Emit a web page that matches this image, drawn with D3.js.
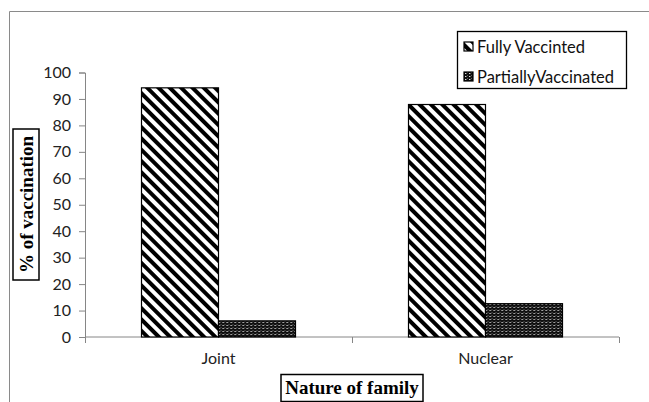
<!DOCTYPE html>
<html>
<head>
<meta charset="utf-8">
<script src="https://cdn.jsdelivr.net/npm/d3@7"></script>
<style>
  body { margin: 0; background: #fff; }
  text { font-family: Lato, "Open Sans", sans-serif; }
</style>
</head>
<body>
<div id="chart"></div>
<script>
// data
var categories = ["Joint", "Nuclear"];
var seriesNames = ["Fully Vaccinted", "PartiallyVaccinated"];
var fullyValues = [94.2, 87.9];
var partialValues = [6.1, 12.6];
var yTicks = [0, 10, 20, 30, 40, 50, 60, 70, 80, 90, 100];

var width = 649, height = 402;
var plotLeft = 85, plotRight = 619, plotTop = 72.5, plotBottom = 337;

var svg = d3.select("#chart").append("svg")
  .attr("width", width)
  .attr("height", height);

var defs = svg.append("defs");

// diagonal stripes for fully vaccinated
var p1 = defs.append("pattern")
  .attr("id", "stripes")
  .attr("patternUnits", "userSpaceOnUse")
  .attr("width", 8).attr("height", 8)
  .attr("patternTransform", "rotate(45)");
p1.append("rect").attr("width", 8).attr("height", 8).attr("fill", "#fff");
p1.append("rect").attr("x", 0).attr("y", 0).attr("width", 8).attr("height", 4).attr("fill", "#000");

// dense dotted pattern for partially vaccinated
var p2 = defs.append("pattern")
  .attr("id", "dots")
  .attr("patternUnits", "userSpaceOnUse")
  .attr("width", 4).attr("height", 3);
p2.append("rect").attr("width", 4).attr("height", 3).attr("fill", "#111");
p2.append("rect").attr("x", 1).attr("y", 1).attr("width", 1.4).attr("height", 1).attr("fill", "#ddd");
p2.append("rect").attr("x", 3).attr("y", 0).attr("width", 0.8).attr("height", 0.8).attr("fill", "#888");

var fills = ["url(#stripes)", "url(#dots)"];

// outer frame (left and top only visible)
svg.append("line").attr("x1", 9.5).attr("y1", 11.5).attr("x2", 9.5).attr("y2", height)
  .attr("stroke", "#8a8a8a");
svg.append("line").attr("x1", 9.5).attr("y1", 11.5).attr("x2", width).attr("y2", 11.5)
  .attr("stroke", "#8a8a8a");

var y = d3.scaleLinear().domain([0, 100]).range([plotBottom, plotTop]);
var x0 = d3.scaleBand().domain(categories).range([plotLeft, plotRight]).paddingInner(0).paddingOuter(0);
var groupW = 154;
var x1 = d3.scaleBand().domain(seriesNames).range([0, groupW]);

var rows = categories.map(function(c, i) {
  return { cat: c, vals: [fullyValues[i], partialValues[i]] };
});

// y axis
var yAxis = svg.append("g")
  .attr("transform", "translate(" + plotLeft + ",0)")
  .call(d3.axisLeft(y).tickValues(yTicks).tickSize(6).tickPadding(8));
yAxis.select(".domain").attr("stroke", "#868686");
yAxis.selectAll(".tick line").attr("stroke", "#868686");
yAxis.selectAll(".tick text").attr("fill", "#222").style("font-size", "16px");

// x axis
var xAxis = svg.append("g")
  .attr("transform", "translate(0," + plotBottom + ")")
  .call(d3.axisBottom(x0).tickSize(0).tickPadding(16));
xAxis.select(".domain").attr("stroke", "#868686").attr("d", "M" + plotLeft + ",0H" + plotRight);
xAxis.selectAll(".tick text").attr("fill", "#222").style("font-size", "16px");
// boundary ticks between categories
svg.append("g").selectAll("line")
  .data([plotLeft, x0("Nuclear"), plotRight])
  .enter().append("line")
  .attr("x1", function(d) { return d + 0.5; })
  .attr("x2", function(d) { return d + 0.5; })
  .attr("y1", plotBottom).attr("y2", plotBottom + 6)
  .attr("stroke", "#868686");

// bars
var groups = svg.append("g").selectAll("g")
  .data(rows)
  .enter().append("g")
  .attr("transform", function(d) {
    return "translate(" + (x0(d.cat) + (x0.bandwidth() - groupW) / 2) + ",0)";
  });

groups.selectAll("rect")
  .data(function(d) { return d.vals.map(function(v, i) { return { v: v, s: seriesNames[i], i: i }; }); })
  .enter().append("rect")
  .attr("x", function(d) { return x1(d.s); })
  .attr("y", function(d) { return y(d.v); })
  .attr("width", x1.bandwidth())
  .attr("height", function(d) { return y(0) - y(d.v); })
  .attr("fill", function(d) { return fills[d.i]; })
  .attr("stroke", "#000")
  .attr("stroke-width", 1.2);

// legend
var legend = svg.append("g");
legend.append("rect")
  .attr("x", 457.5).attr("y", 31.5).attr("width", 169).attr("height", 57)
  .attr("fill", "#fff").attr("stroke", "#000").attr("stroke-width", 1.3);
var items = legend.selectAll(".item")
  .data(seriesNames)
  .enter().append("g")
  .attr("class", "item")
  .attr("transform", function(d, i) { return "translate(464," + (42 + i * 30) + ")"; });
items.append("rect")
  .attr("width", 9).attr("height", 9)
  .attr("fill", function(d, i) { return fills[i]; })
  .attr("stroke", "#000").attr("stroke-width", 1.2);
items.append("text")
  .attr("x", 13).attr("y", 10.5)
  .style("font-size", "16.5px")
  .attr("fill", "#111")
  .text(function(d) { return d; });

// y axis title
var yt = svg.append("g").attr("transform", "translate(26,204.5) rotate(-90)");
yt.append("rect").attr("x", -75.5).attr("y", -13).attr("width", 151).attr("height", 26)
  .attr("fill", "#fff").attr("stroke", "#000").attr("stroke-width", 1.5);
yt.append("text").attr("text-anchor", "middle").attr("y", 6.5)
  .style("font-family", "'Liberation Serif', serif").style("font-weight", "bold").style("font-size", "19px")
  .text("% of vaccination");

// x axis title
var xt = svg.append("g").attr("transform", "translate(352,387.5)");
xt.append("rect").attr("x", -71).attr("y", -13).attr("width", 142).attr("height", 27)
  .attr("fill", "#fff").attr("stroke", "#000").attr("stroke-width", 1.5);
xt.append("text").attr("text-anchor", "middle").attr("y", 6.5)
  .style("font-family", "'Liberation Serif', serif").style("font-weight", "bold").style("font-size", "19px")
  .text("Nature of family");
</script>
</body>
</html>
